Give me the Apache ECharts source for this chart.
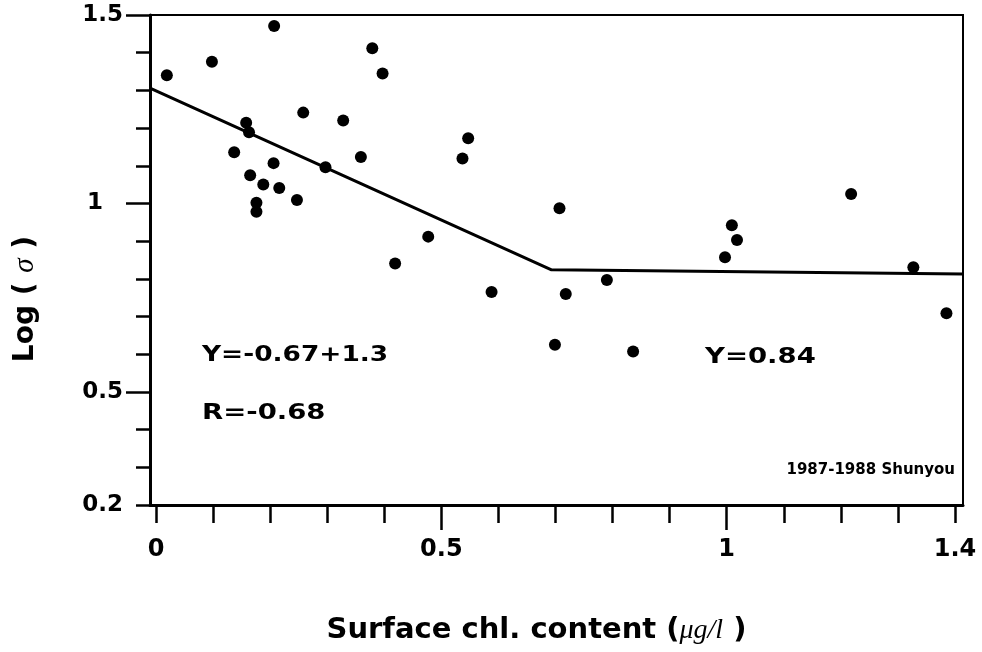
<!DOCTYPE html>
<html><head><meta charset="utf-8">
<script src="https://cdn.jsdelivr.net/npm/echarts@6/dist/echarts.min.js"></script>
<style>html,body{margin:0;padding:0;background:#fff}#c{width:982px;height:652px}</style>
</head><body><div id="c"></div>
<script>
// Surface chlorophyll content (x) and Log(sigma) (y) of the observations
const chlX = [0.019, 0.098, 0.207, 0.379, 0.397, 0.258, 0.328, 0.158, 0.163, 0.547,
  0.537, 0.137, 0.206, 0.359, 0.297, 0.165, 0.188, 0.216, 0.247, 0.176,
  0.176, 0.477, 0.419, 0.588, 0.707, 1.009, 1.018, 0.997, 1.218, 1.327,
  1.385, 0.718, 0.790, 0.699, 0.836];
const logSigma = [1.340, 1.376, 1.471, 1.412, 1.345, 1.241, 1.220, 1.214, 1.189, 1.173,
  1.119, 1.136, 1.107, 1.123, 1.096, 1.075, 1.050, 1.041, 1.009, 1.002,
  0.978, 0.912, 0.841, 0.765, 0.987, 0.942, 0.903, 0.857, 1.025, 0.831,
  0.709, 0.760, 0.797, 0.625, 0.607];
// piecewise fitted line
const fitX = [-0.0105, 0.693, 1.414];
const fitY = [1.306, 0.824, 0.813];
// axes
const xTickValues = [0, 0.1, 0.2, 0.3, 0.4, 0.5, 0.6, 0.7, 0.8, 0.9, 1, 1.1, 1.2, 1.3, 1.4];
const xMajorTicks = [0.5, 1];
const xLabelValues = [0, 0.5, 1, 1.4];
const yTickValues = [0.2, 0.3, 0.4, 0.5, 0.6, 0.7, 0.8, 0.9, 1, 1.1, 1.2, 1.3, 1.4, 1.5];
const yMajorTicks = [0.5, 1, 1.5];
const yLabelValues = [0.2, 0.5, 1, 1.5];
const xTitle = 'Surface chl. content ({m|μg/l} )';
const yTitle = 'Log ( {s|σ} )';
const annotations = ['Y=-0.67+1.3', 'R=-0.68', 'Y=0.84', '1987-1988 Shunyou'];

const SANS = '"DejaVu Sans", "Liberation Sans", sans-serif';
const SERIF = '"Liberation Serif", "DejaVu Serif", serif';
const xMin = -0.0105, xMax = 1.414, yMin = 0.2, yMax = 1.5;

const chart = echarts.init(document.getElementById('c'), null, {renderer: 'canvas'});
const tickLine = {color: '#000', width: 2.5};
chart.setOption({
  animation: false,
  backgroundColor: '#fff',
  grid: {left: 150, right: 19, top: 15, bottom: 147, show: true, borderColor: '#000', borderWidth: 2,
    backgroundColor: 'transparent', containLabel: false, outerBoundsMode: 'none'},
  xAxis: [{
    type: 'value', min: xMin, max: xMax, position: 'bottom',
    axisLine: {show: true, onZero: false, lineStyle: {color: '#000', width: 3}},
    axisTick: {show: true, customValues: xTickValues, length: 18, lineStyle: tickLine},
    axisLabel: {show: false},
    splitLine: {show: false},
    name: xTitle, nameLocation: 'middle', nameGap: 111,
    nameTextStyle: {fontFamily: SANS, fontWeight: 'bold', fontSize: 29, color: '#000', padding: [0, 40, 0, 0],
      rich: {m: {fontFamily: SERIF, fontStyle: 'italic', fontWeight: 'normal', fontSize: 28, color: '#000'}}}
  }, {
    type: 'value', min: xMin, max: xMax, position: 'bottom',
    axisLine: {show: false, onZero: false},
    axisTick: {show: true, customValues: xMajorTicks, length: 25, lineStyle: tickLine},
    axisLabel: {show: true, customValues: xLabelValues, margin: 33, color: '#000',
      fontFamily: SANS, fontWeight: 'bold', fontSize: 24},
    splitLine: {show: false}
  }],
  yAxis: [{
    type: 'value', min: yMin, max: yMax, position: 'left',
    axisLine: {show: true, onZero: false, lineStyle: {color: '#000', width: 3}},
    axisTick: {show: true, customValues: yTickValues, length: 14, lineStyle: tickLine},
    axisLabel: {show: false},
    splitLine: {show: false},
    name: yTitle, nameLocation: 'middle', nameGap: 110, nameRotate: 90,
    nameTextStyle: {fontFamily: SANS, fontWeight: 'bold', fontSize: 28, color: '#000', padding: [0, 78, 0, 0],
      rich: {s: {fontFamily: SERIF, fontStyle: 'italic', fontWeight: 'normal', fontSize: 29, color: '#000'}}}
  }, {
    type: 'value', min: yMin, max: yMax, position: 'left',
    axisLine: {show: false, onZero: false},
    axisTick: {show: true, customValues: yMajorTicks, length: 24, lineStyle: tickLine},
    axisLabel: {show: true, customValues: yLabelValues, margin: 27, color: '#000',
      fontFamily: SANS, fontWeight: 'bold', fontSize: 23,
      formatter: v => v === 1 ? '{one|1}' : String(v),
      rich: {one: {padding: [0, 20, 0, 0], fontFamily: SANS, fontWeight: 'bold', fontSize: 23, color: '#000'}}},
    splitLine: {show: false}
  }],
  series: [{
    type: 'line', xAxisIndex: 0, yAxisIndex: 0,
    data: fitX.map((x, i) => [x, fitY[i]]),
    showSymbol: false, symbol: 'none',
    lineStyle: {color: '#000', width: 3}, z: 2
  }, {
    type: 'scatter', xAxisIndex: 0, yAxisIndex: 0,
    data: chlX.map((x, i) => [x, logSigma[i]]),
    symbol: 'circle', symbolSize: 12,
    itemStyle: {color: '#000', opacity: 1}, z: 3
  }],
  graphic: [
    {type: 'text', x: 202, y: 355, scaleX: 1.2, style: {text: annotations[0], fontFamily: SANS, fontWeight: 'bold', fontSize: 22, fill: '#000', align: 'left', verticalAlign: 'middle'}},
    {type: 'text', x: 202, y: 413, scaleX: 1.25, style: {text: annotations[1], fontFamily: SANS, fontWeight: 'bold', fontSize: 22, fill: '#000', align: 'left', verticalAlign: 'middle'}},
    {type: 'text', x: 705, y: 357, scaleX: 1.25, style: {text: annotations[2], fontFamily: SANS, fontWeight: 'bold', fontSize: 22, fill: '#000', align: 'left', verticalAlign: 'middle'}},
    {type: 'text', x: 955, y: 470, style: {text: annotations[3], fontFamily: SANS, fontWeight: 'bold', fontSize: 15, fill: '#000', align: 'right', verticalAlign: 'middle'}}
  ]
});
</script></body></html>
